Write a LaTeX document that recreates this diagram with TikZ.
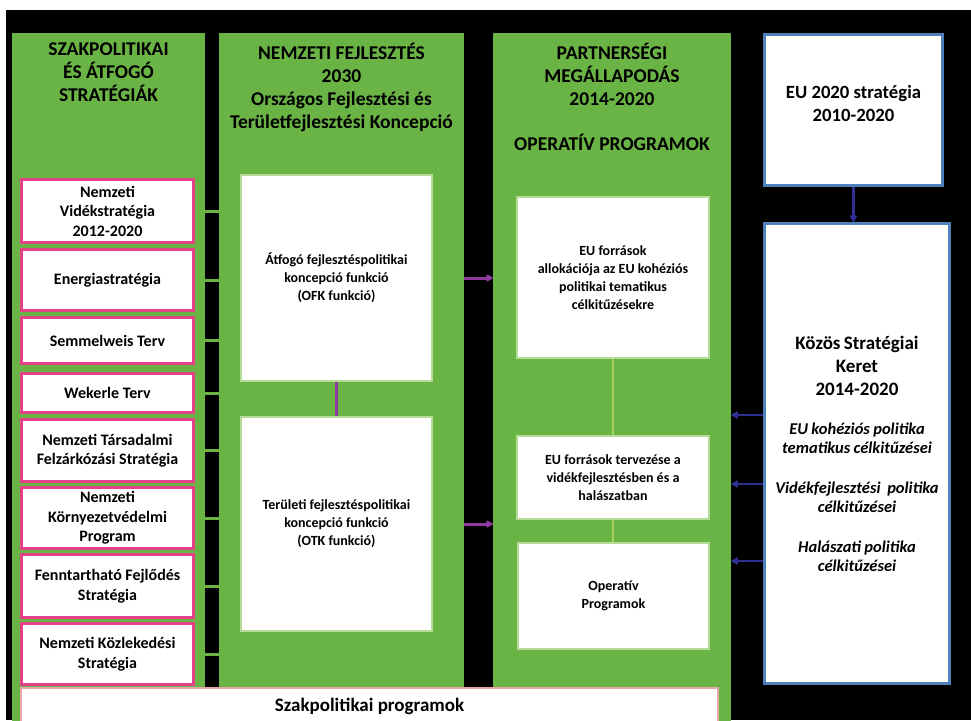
\documentclass[tikz,border=0pt]{standalone}
\usepackage{fontspec}
\setmainfont{Carlito}
\usetikzlibrary{positioning, arrows.meta}

\definecolor{grn}{HTML}{6AB345}
\definecolor{grnlt}{HTML}{B4DC98}
\definecolor{grnline}{HTML}{A8D35A}
\definecolor{pnk}{HTML}{E4418B}
\definecolor{pnklt}{HTML}{E8A8A8}
\definecolor{blubox}{HTML}{4F81BD}
\definecolor{bluarr}{HTML}{2E3192}
\definecolor{purp}{HTML}{8E3A9F}

\begin{document}
\begin{tikzpicture}[
        x=1pt, y=-1pt,
        every node/.style={inner sep=0pt, align=center, anchor=north west},
        col/.style={fill=grn, minimum height=692},
        head/.style={anchor=north, font=\bfseries\fontsize{19.5}{23}\selectfont},
        pinkbox/.style={draw=pnk, line width=3pt, fill=white, minimum width=172,
            font=\bfseries\fontsize{16}{19.5}\selectfont},
        whitebox/.style={draw=grnlt, line width=2pt, fill=white,
            font=\bfseries\fontsize{14}{18}\selectfont},
        bluebox/.style={draw=blubox, line width=3pt, fill=white},
        glink/.style={draw=grn, line width=3pt},
        purparrow/.style={draw=purp, line width=3pt, -{Latex[round, length=8pt, width=9pt]}},
        bluarrow/.style={draw=bluarr, line width=2.5pt, -{Latex[round, length=8pt, width=9pt]}}
    ]

    % Background
    \useasboundingbox (0,0) rectangle (971,720);
    \fill[white] (0,0) rectangle (971,720);
    \fill[black] (6,10) rectangle (971,720);

    % Columns
    \node[col, minimum width=193] (col1) at (12,33) {};
    \node[col, minimum width=245] (col2) at (219,33) {};
    \node[col, minimum width=238] (col3) at (493,33) {};

    \node[head] (head1) at (108.5,43) {SZAKPOLITIKAI\\ÉS ÁTFOGÓ\\STRATÉGIÁK};
    \node[head] (head2) at (341.5,43) {NEMZETI FEJLESZTÉS\\2030\\Országos Fejlesztési és\\Területfejlesztési Koncepció};
    \node[head] (head3) at (612,43) {PARTNERSÉGI\\MEGÁLLAPODÁS\\2014-2020\\[22pt]OPERATÍV PROGRAMOK};

    % Strategies
    \node[pinkbox, minimum height=63] (nvs) at (20,178) {Nemzeti\\Vidékstratégia\\2012-2020};
    \node[pinkbox, minimum height=61] (ens) at (20,248) {Energiastratégia};
    \node[pinkbox, minimum height=46] (smw) at (20,316) {Semmelweis Terv};
    \node[pinkbox, minimum height=39] (wkt) at (20,372) {Wekerle Terv};
    \node[pinkbox, minimum height=62] (ntf) at (20,418) {Nemzeti Társadalmi\\Felzárkózási Stratégia};
    \node[pinkbox, minimum height=61] (nkp) at (20,486) {Nemzeti\\Környezetvédelmi\\Program};
    \node[pinkbox, minimum height=63] (ffs) at (20,553) {Fenntartható Fejlődés\\Stratégia};
    \node[pinkbox, minimum height=61] (nks) at (20,622) {Nemzeti Közlekedési\\Stratégia};

    % Concept functions
    \node[whitebox, minimum width=191, minimum height=206] (ofk) at (240,174)
        {Átfogó fejlesztéspolitikai\\koncepció funkció\\(OFK funkció)};
    \node[whitebox, minimum width=191, minimum height=214] (otk) at (240,416)
        {Területi fejlesztéspolitikai\\koncepció funkció\\(OTK funkció)};

    % Operative programmes
    \node[whitebox, minimum width=192, minimum height=161] (eua) at (516,196)
        {EU források\\allokációja az EU kohéziós\\politikai tematikus\\célkitűzésekre};
    \node[whitebox, minimum width=192, minimum height=83] (eub) at (516,435)
        {EU források tervezése a\\vidékfejlesztésben és a\\halászatban};
    \node[whitebox, minimum width=191, minimum height=106] (euc) at (517,542)
        {Operatív\\Programok};

    % EU side
    \node[bluebox, minimum width=178, minimum height=151, text depth=14pt,
        font=\bfseries\fontsize{18.7}{23}\selectfont] (eu2020) at (763,33)
        {EU 2020 stratégia\\2010-2020};
    \node[bluebox, minimum width=185, minimum height=460, text width=185pt] (ksk) at (763,222)
        {{\bfseries\fontsize{19}{23}\selectfont Közös Stratégiai\\Keret\\2014-2020\par}\vspace{20pt}
         {\bfseries\itshape\fontsize{16.5}{19}\selectfont EU kohéziós politika\\tematikus célkitűzései\par}\vspace{21pt}
         {\bfseries\itshape\fontsize{16.5}{19}\selectfont Vidékfejlesztési\ \ politika\\célkitűzései\par}\vspace{21pt}
         {\bfseries\itshape\fontsize{16.5}{19}\selectfont Halászati politika\\célkitűzései\par}};

    \node[draw=pnklt, line width=2pt, fill=white, minimum width=697, minimum height=36,
        font=\bfseries\fontsize{19}{21}\selectfont] (szp) at (20,687) {Szakpolitikai programok};

    % Links
    \draw[glink] (nvs.east) -- (nvs.east -| col2.west);
    \draw[glink] (ens.east) -- (ens.east -| col2.west);
    \draw[glink] (smw.east) -- (smw.east -| col2.west);
    \draw[glink] (wkt.east) -- (wkt.east -| col2.west);
    \draw[glink] (ntf.east) -- (ntf.east -| col2.west);
    \draw[glink] (nkp.east) -- (nkp.east -| col2.west);
    \draw[glink] (ffs.east) -- (ffs.east -| col2.west);
    \draw[glink] (nks.east) -- (nks.east -| col2.west);

    \draw[purp, line width=3pt] (ofk.south) -- (otk.north);
    \draw[grnline, line width=2pt] (eua.south) -- (eua.south |- eub.north);
    \draw[grnline, line width=2pt] (eub.south) -- (eub.south |- euc.north);

    % Arrows
    \draw[purparrow] (col2.east |- ofk.east) -- (col3.west |- ofk.east);
    \draw[purparrow] (col2.east |- otk.east) -- (col3.west |- otk.east);

    \coordinate (k1) at (763,415);
    \coordinate (k2) at (763,484);
    \coordinate (k3) at (763,561);
    \draw[bluarrow] (eu2020.south) -- (eu2020.south |- ksk.north);
    \draw[bluarrow] (k1) -- (k1 -| col3.east);
    \draw[bluarrow] (k2) -- (k2 -| col3.east);
    \draw[bluarrow] (k3) -- (k3 -| col3.east);

\end{tikzpicture}
\end{document}
